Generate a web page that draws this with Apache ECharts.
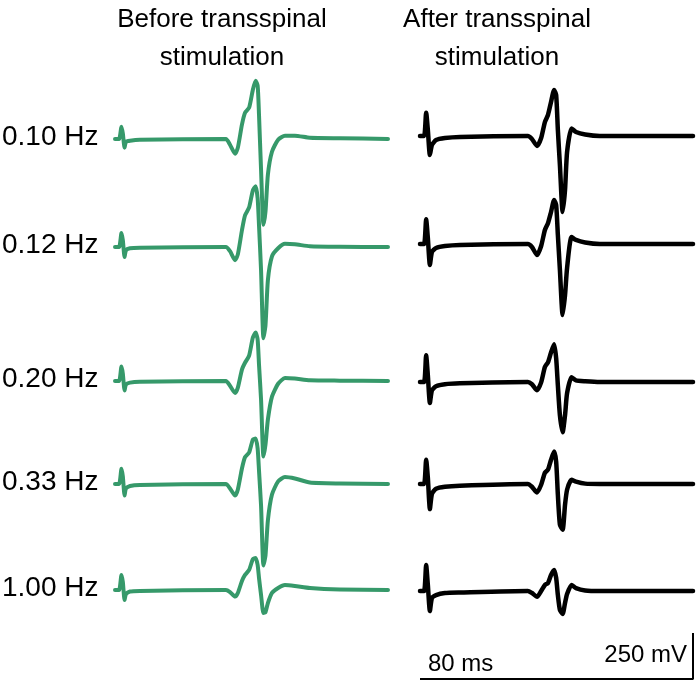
<!DOCTYPE html>
<html>
<head>
<meta charset="utf-8">
<script src="https://cdn.jsdelivr.net/npm/echarts@6/dist/echarts.min.js"></script>
<style>
html, body { margin: 0; padding: 0; background: #fff; }
#chart { width: 700px; height: 685px; }
</style>
</head>
<body>
<div id="chart"></div>
<script>
// sample times (ms) along one sweep
const beforeTimes = [0, 1.2, 1.9, 2.3, 2.8, 3.2, 4.4, 7.3, 32.5, 33.7, 35.2, 36.0, 37.2, 38.1, 39.3, 40.4, 41.2, 41.8, 42.2, 42.8, 43.5, 44.1, 44.8, 46.0, 47.8, 49.8, 52.7, 57.1, 65.9, 80];
const afterTimes = [0, 1.2, 1.8, 2.3, 2.9, 3.5, 4.7, 7.3, 11.7, 31.6, 32.8, 34.3, 35.5, 36.6, 37.5, 38.4, 39.3, 39.9, 40.4, 41.0, 41.8, 42.5, 43.1, 44.4, 45.7, 48.4, 52.7, 80];

// responses in mV before transspinal stimulation
const before010 = [0, 0, 67, 29, -47, -15, -9, -4, 0, -31, -80, -47, 78, 143, 170, 268, 317, 290, 132, -167, -466, -395, -194, -69, -4, 18, 18, 7, 4, 0];
const before012 = [0, 0, 76, 36, -54, -18, -7, -4, 0, -23, -72, -40, 91, 172, 215, 308, 330, 265, 118, -126, -496, -426, -181, -51, -7, 17, 15, 4, 1, 0];
const before020 = [0, 0, 79, 40, -51, -20, -9, -4, 0, -26, -65, -36, 62, 99, 138, 236, 263, 225, 89, -101, -410, -345, -210, -85, -15, 16, 13, 4, 2, 0];
const before033 = [0, 0, 83, 41, -63, -25, -11, -5, 0, -24, -63, -30, 84, 146, 171, 242, 247, 193, 73, -117, -443, -389, -198, -57, 14, 38, 30, 8, 3, 0];
const before100 = [0, 0, 82, 43, -54, -22, -8, -5, 0, -11, -36, -16, 49, 82, 109, 168, 174, 136, 65, -27, -125, -120, -71, -16, 11, 27, 22, 11, 3, 0];

// responses in mV after transspinal stimulation
const after010 = [0, 0, 127, 33, -103, -49, -22, -11, -5, 0, -16, -54, -11, 76, 114, 185, 250, 223, 33, -158, -413, -293, -87, 41, 22, 8, 0, 0];
const after012 = [0, 0, 134, 33, -114, -43, -22, -11, -5, 0, -16, -60, -11, 76, 113, 174, 239, 212, 49, -141, -386, -277, -130, 38, 22, 8, 0, 0];
const after020 = [0, 0, 145, 36, -114, -45, -23, -12, -7, 0, -12, -45, -2, 82, 107, 161, 205, 129, -18, -181, -273, -181, -61, 26, 9, 4, 0, 0];
const after033 = [0, 0, 132, 34, -136, -53, -26, -15, -9, 0, -15, -46, -4, 61, 78, 132, 176, 121, -58, -221, -248, -113, -31, 23, 13, 2, 0, 0];
const after100 = [0, 0, 141, 33, -109, -38, -22, -11, -8, 0, -11, -31, 0, 33, 43, 87, 114, 71, -22, -103, -125, -65, -16, 33, 16, 3, 0, 0];

const rateLabels = ['0.10 Hz', '0.12 Hz', '0.20 Hz', '0.33 Hz', '1.00 Hz'];
const columnTitles = ['Before transspinal\nstimulation', 'After transspinal\nstimulation'];
const scaleBarMs = 80;
const scaleBarMv = 250;

// layout: baseline of every row (px) for each column
const beforeRows = [139, 247, 381, 484, 590];
const afterRows = [136, 244, 382, 484, 591];
const fontFamily = '"Liberation Sans", Arial, sans-serif';

const columns = [
    { times: beforeTimes, sweeps: [before010, before012, before020, before033, before100], rows: beforeRows, left: 115, color: '#36996a', width: 4 },
    { times: afterTimes, sweeps: [after010, after012, after020, after033, after100], rows: afterRows, left: 420, color: '#000', width: 4.5 }
];

let grid = [], xAxis = [], yAxis = [], series = [];

columns.forEach(col => {
    col.sweeps.forEach((sweep, i) => {
        let idx = grid.length;
        grid.push({ left: col.left, width: 273, top: col.rows[i] - 92, height: 184 });
        xAxis.push({ gridIndex: idx, type: 'value', min: 0, max: 80, show: false });
        yAxis.push({ gridIndex: idx, type: 'value', min: -500, max: 500, show: false });
        series.push({
            type: 'line',
            xAxisIndex: idx,
            yAxisIndex: idx,
            data: col.times.map((t, k) => [t, sweep[k]]),
            symbol: 'none',
            smooth: 0.2,
            clip: false,
            silent: true,
            lineStyle: { color: col.color, width: col.width, join: 'round', cap: 'round' }
        });
    });
});

// scale bar: 80 ms x 250 mV
let sb = grid.length;
grid.push({ left: 420, width: 273, top: 633, height: 46 });
xAxis.push({ gridIndex: sb, type: 'value', min: 0, max: scaleBarMs, show: false });
yAxis.push({ gridIndex: sb, type: 'value', min: 0, max: scaleBarMv, show: false });
series.push({
    type: 'line',
    xAxisIndex: sb,
    yAxisIndex: sb,
    data: [[0, 0], [scaleBarMs, 0], [scaleBarMs, scaleBarMv]],
    symbol: 'none',
    clip: false,
    silent: true,
    lineStyle: { color: '#000', width: 2 }
});

let graphic = [
    { type: 'text', style: { x: 222, y: 1, text: columnTitles[0], font: '26px ' + fontFamily, lineHeight: 38, textAlign: 'center', fill: '#000' } },
    { type: 'text', style: { x: 497, y: 1, text: columnTitles[1], font: '26px ' + fontFamily, lineHeight: 38, textAlign: 'center', fill: '#000' } },
    { type: 'text', style: { x: 428, y: 664, text: scaleBarMs + ' ms', font: '24px ' + fontFamily, textVerticalAlign: 'middle', fill: '#000' } },
    { type: 'text', style: { x: 687, y: 655, text: scaleBarMv + ' mV', font: '24px ' + fontFamily, textAlign: 'right', textVerticalAlign: 'middle', fill: '#000' } }
];
rateLabels.forEach((label, i) => {
    graphic.push({ type: 'text', style: { x: 2, y: beforeRows[i] - 2, text: label, font: '28px ' + fontFamily, textVerticalAlign: 'middle', fill: '#000' } });
});

let chart = echarts.init(document.getElementById('chart'));
chart.setOption({
    animation: false,
    backgroundColor: '#fff',
    grid: grid,
    xAxis: xAxis,
    yAxis: yAxis,
    series: series,
    graphic: graphic
});
</script>
</body>
</html>
